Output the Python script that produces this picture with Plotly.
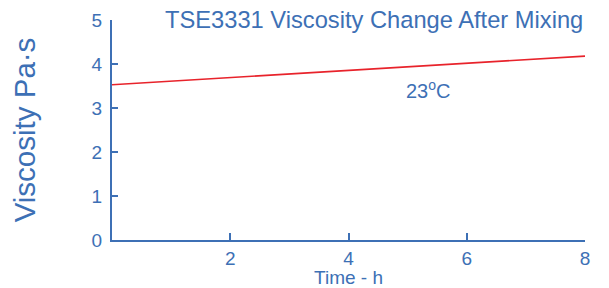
import plotly.graph_objects as go

time_h = [0, 8]
viscosity = [3.53, 4.18]
x_ticks = [2, 4, 6, 8]
y_ticks = [0, 1, 2, 3, 4, 5]

blue = "#3d70b5"
red = "#e8232b"
font = "Liberation Sans"

fig = go.Figure()
fig.add_trace(go.Scatter(x=time_h, y=viscosity, mode="lines",
                         line=dict(color=red, width=1.6), showlegend=False))

fig.update_layout(
    width=601, height=280,
    margin=dict(l=104, r=24, t=12, b=48),
    plot_bgcolor="white", paper_bgcolor="white",
    font=dict(family=font, color=blue, size=19),
    annotations=[
        dict(text="TSE3331 Viscosity Change After Mixing", xref="paper", yref="paper",
             x=1.0, y=1.0, xanchor="right", yanchor="middle", showarrow=False,
             font=dict(size=23.7, color=blue, family=font)),
        dict(text="23<sup>o</sup>C", xref="x", yref="y", x=5.36, y=3.42,
             showarrow=False, font=dict(size=20, color=blue, family=font)),
    ],
)
fig.update_xaxes(range=[0, 8], tickvals=x_ticks, ticks="inside", ticklen=7, tickwidth=2,
                 tickcolor=blue, showline=True, linecolor=blue, linewidth=2,
                 showgrid=False, zeroline=False, automargin=False,
                 title=dict(text="Time - h", standoff=13, font=dict(size=19, family=font)),
                 tickfont=dict(size=19, family=font))
fig.update_yaxes(range=[0, 5], tickvals=y_ticks, ticks="inside", ticklen=6, tickwidth=2,
                 tickcolor=blue, showline=True, linecolor=blue, linewidth=2,
                 showgrid=False, zeroline=False, automargin=False, ticklabelstandoff=4,
                 title=dict(text="Viscosity Pa·s", standoff=53, font=dict(size=29.5, family=font)),
                 tickfont=dict(size=19, family=font))

fig.write_html("out.html")
